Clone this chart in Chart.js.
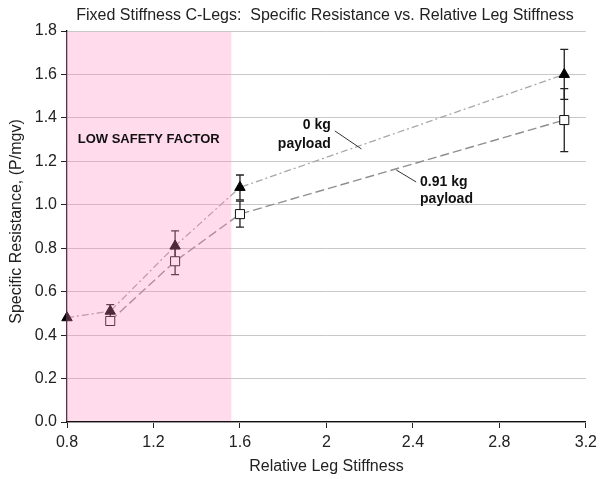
<!DOCTYPE html>
<html><head><meta charset="utf-8">
<script src="https://cdn.jsdelivr.net/npm/chart.js@4/dist/chart.umd.min.js"></script>
<style>html,body{margin:0;padding:0;background:#fff}#wrap{width:602px;height:479px}</style>
</head><body><div id="wrap"><canvas id="c" width="602" height="479"></canvas></div>
<script>
// ---- data ----
const stiffness = [0.8, 1.0, 1.3, 1.6, 3.1];
const sr0kg = [0.48, 0.51, 0.81, 1.08, 1.60];
const err0kg = [0, 0.03, 0.07, 0.057, 0.115];
const sr091kg = [null, 0.465, 0.74, 0.957, 1.39];
const err091kg = [null, 0.02, 0.062, 0.06, 0.145];
const xTickValues = [0.8, 1.2, 1.6, 2.0, 2.4, 2.8, 3.2];
const yTickValues = [0, 0.2, 0.4, 0.6, 0.8, 1.0, 1.2, 1.4, 1.6, 1.8];
const lowSafetyRange = [0.8, 1.56];
const chartTitle = 'Fixed Stiffness C-Legs:  Specific Resistance vs. Relative Leg Stiffness';
const xTitle = 'Relative Leg Stiffness';
const yTitle = 'Specific Resistance, (P/mgv)';
const seriesNames = ['0 kg payload', '0.91 kg payload'];
const regionLabel = 'LOW SAFETY FACTOR';
// label anchors in data units
const label0kg = {x: 2.02, y: [1.367, 1.28], text: ['0 kg', 'payload'], lead: [[2.039, 1.340], [2.162, 1.257]]};
const label091 = {x: 2.433, y: [1.105, 1.027], text: ['0.91 kg', 'payload'], lead: [[2.323, 1.160], [2.415, 1.105]]};
const regionLabelPos = {x: 1.178, y: 1.30};

const FONT = '"Liberation Sans", Arial, sans-serif';

function pts(xs, ys) {
  const out = [];
  xs.forEach((x, i) => { if (ys[i] !== null) out.push({x: x, y: ys[i]}); });
  return out;
}

const errorBars = {
  id: 'errorBars',
  beforeDatasetsDraw(chart) {
    const ctx = chart.ctx, xs = chart.scales.x, ys = chart.scales.y;
    ctx.save();
    ctx.strokeStyle = '#222';
    ctx.lineWidth = 1.3;
    [[sr0kg, err0kg], [sr091kg, err091kg]].forEach(([vals, errs]) => {
      stiffness.forEach((sx, i) => {
        if (vals[i] === null || !errs[i]) return;
        const px = xs.getPixelForValue(sx);
        const top = ys.getPixelForValue(vals[i] + errs[i]);
        const bot = ys.getPixelForValue(vals[i] - errs[i]);
        ctx.beginPath();
        ctx.moveTo(px, top); ctx.lineTo(px, bot);
        ctx.moveTo(px - 4, top); ctx.lineTo(px + 4, top);
        ctx.moveTo(px - 4, bot); ctx.lineTo(px + 4, bot);
        ctx.stroke();
      });
    });
    ctx.restore();
  }
};

const overlay = {
  id: 'overlay',
  afterDatasetsDraw(chart) {
    const ctx = chart.ctx, xs = chart.scales.x, ys = chart.scales.y;
    const l = xs.getPixelForValue(lowSafetyRange[0]) - 1;
    const r = xs.getPixelForValue(lowSafetyRange[1]);
    const t = ys.getPixelForValue(1.8) + 1;
    const b = ys.getPixelForValue(0) - 1;
    ctx.save();
    ctx.fillStyle = 'rgba(255,135,192,0.3)';
    ctx.fillRect(l, t, r - l, b - t);
    ctx.restore();
  },
  afterDraw(chart) {
    const ctx = chart.ctx, xs = chart.scales.x, ys = chart.scales.y;
    const ca = chart.chartArea;
    ctx.save();
    ctx.fillStyle = '#222';
    ctx.textBaseline = 'middle';
    // title
    ctx.font = '16px ' + FONT;
    ctx.textAlign = 'center';
    ctx.fillText(chartTitle, 325, 16);
    // x title
    ctx.fillText(xTitle, (ca.left + ca.right) / 2, 467);
    // y title
    ctx.save();
    ctx.translate(17, (ca.top + ca.bottom) / 2 - 5);
    ctx.rotate(-Math.PI / 2);
    ctx.fillText(yTitle, 0, 0);
    ctx.restore();
    // region label
    ctx.font = 'bold 13px ' + FONT;
    ctx.fillStyle = '#111';
    ctx.fillText(regionLabel, xs.getPixelForValue(regionLabelPos.x), ys.getPixelForValue(regionLabelPos.y));
    // series labels
    ctx.font = 'bold 14px ' + FONT;
    ctx.textAlign = 'right';
    label0kg.text.forEach((t, i) => ctx.fillText(t, xs.getPixelForValue(label0kg.x), ys.getPixelForValue(label0kg.y[i])));
    ctx.textAlign = 'left';
    label091.text.forEach((t, i) => ctx.fillText(t, xs.getPixelForValue(label091.x), ys.getPixelForValue(label091.y[i])));
    ctx.strokeStyle = '#333';
    ctx.lineWidth = 1;
    [label0kg, label091].forEach(lb => {
      ctx.beginPath();
      ctx.moveTo(xs.getPixelForValue(lb.lead[0][0]), ys.getPixelForValue(lb.lead[0][1]));
      ctx.lineTo(xs.getPixelForValue(lb.lead[1][0]), ys.getPixelForValue(lb.lead[1][1]));
      ctx.stroke();
    });
    ctx.restore();
  }
};

new Chart(document.getElementById('c'), {
  type: 'scatter',
  data: {
    datasets: [
      {
        label: seriesNames[0],
        data: pts(stiffness, sr0kg),
        showLine: true,
        borderColor: '#a8a8a8',
        borderWidth: 1.3,
        borderDash: [7, 3, 2, 3],
        pointStyle: 'triangle',
        pointRadius: 6,
        pointBackgroundColor: '#000',
        pointBorderColor: '#000',
        pointBorderWidth: 1,
        clip: false
      },
      {
        label: seriesNames[1],
        data: pts(stiffness, sr091kg),
        showLine: true,
        borderColor: '#8f8f8f',
        borderWidth: 1.4,
        borderDash: [9, 4],
        pointStyle: 'rect',
        pointRadius: 6.4,
        pointBackgroundColor: '#fff',
        pointBorderColor: '#111',
        pointBorderWidth: 1,
        clip: false
      }
    ]
  },
  options: {
    responsive: false,
    animation: false,
    devicePixelRatio: 1,
    layout: {padding: {top: 31, right: 11, left: 0, bottom: 0}},
    plugins: {legend: {display: false}, tooltip: {enabled: false}, title: {display: false}},
    scales: {
      x: {
        type: 'linear', min: 0.8, max: 3.2,
        afterBuildTicks(s) { s.ticks = xTickValues.map(v => ({value: v})); },
        afterFit(s) { s.height = 57; },
        ticks: {
          callback: v => String(Number(v.toFixed(1))),
          color: '#222', font: {family: FONT, size: 16}, padding: 5, maxRotation: 0
        },
        grid: {drawOnChartArea: false, drawTicks: true, tickLength: 6, tickColor: '#222', tickWidth: 1},
        border: {color: '#111', width: 1.3}
      },
      y: {
        type: 'linear', min: 0, max: 1.8,
        afterBuildTicks(s) { s.ticks = yTickValues.map(v => ({value: v})); },
        afterFit(s) { s.width = 67; },
        ticks: {
          callback: v => v.toFixed(1),
          color: '#222', font: {family: FONT, size: 16}, padding: 4
        },
        grid: {color: '#c8c8c8', lineWidth: 1, drawTicks: true, tickLength: 6, tickColor: '#222'},
        border: {color: '#111', width: 1.3}
      }
    }
  },
  plugins: [errorBars, overlay]
});
</script></body></html>
